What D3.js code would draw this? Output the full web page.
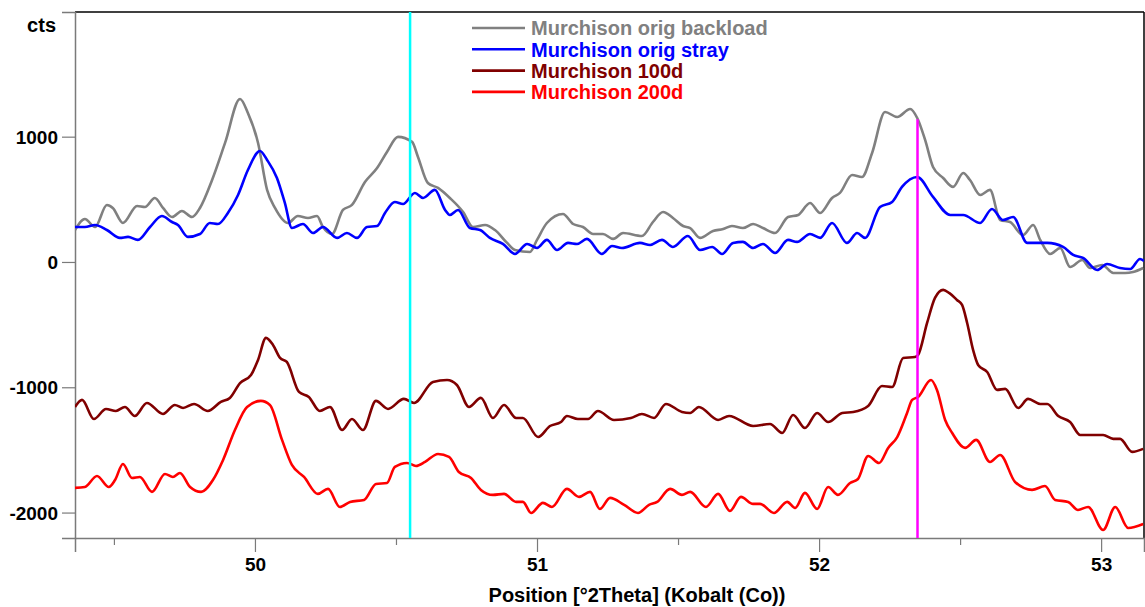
<!DOCTYPE html>
<html>
<head>
<meta charset="utf-8">
<script src="https://cdn.jsdelivr.net/npm/d3@7"></script>
<style>
  body { margin: 0; background: #fff; }
  svg text { font-family: "Liberation Sans", Arial, sans-serif; font-weight: bold; }
</style>
</head>
<body>
<div id="chart"></div>
<script>
// [°2Theta, cts]
const backload = [[49.362,255],[49.397,343],[49.433,279],[49.475,455],[49.496,431],[49.532,311],[49.582,447],[49.610,439],[49.645,511],[49.674,431],[49.706,359],[49.741,407],[49.777,359],[49.805,431],[49.848,654],[49.894,950],[49.947,1301],[49.975,1189],[50.011,950],[50.043,575],[50.071,431],[50.117,311],[50.152,367],[50.188,351],[50.220,367],[50.241,279],[50.273,223],[50.312,415],[50.344,455],[50.390,638],[50.433,750],[50.468,878],[50.507,998],[50.557,958],[50.578,838],[50.613,630],[50.649,591],[50.691,511],[50.738,399],[50.773,279],[50.816,295],[50.851,255],[50.894,152],[50.922,96],[50.975,80],[51.000,176],[51.035,311],[51.092,383],[51.128,303],[51.163,279],[51.199,223],[51.234,223],[51.270,184],[51.305,231],[51.372,207],[51.411,319],[51.447,399],[51.482,351],[51.518,287],[51.543,271],[51.578,192],[51.624,247],[51.660,263],[51.691,287],[51.730,271],[51.766,303],[51.801,271],[51.844,231],[51.890,359],[51.926,375],[51.968,471],[52.004,391],[52.046,511],[52.074,551],[52.117,694],[52.152,678],[52.188,870],[52.234,1197],[52.277,1157],[52.323,1221],[52.348,1149],[52.376,974],[52.404,758],[52.440,670],[52.475,599],[52.511,710],[52.535,654],[52.571,535],[52.606,575],[52.642,335],[52.677,319],[52.723,215],[52.759,295],[52.784,176],[52.819,64],[52.855,112],[52.890,-40],[52.933,16],[52.961,-48],[53.004,-24],[53.043,-88],[53.085,-88],[53.113,-80],[53.149,-48]];

const stray = [[49.362,279],[49.397,279],[49.433,295],[49.475,255],[49.521,192],[49.550,200],[49.585,176],[49.628,279],[49.670,367],[49.706,319],[49.727,295],[49.762,200],[49.805,223],[49.840,311],[49.869,303],[49.904,391],[49.940,535],[49.975,734],[50.018,886],[50.043,814],[50.078,670],[50.106,471],[50.131,271],[50.170,303],[50.206,231],[50.241,279],[50.291,192],[50.326,231],[50.362,192],[50.397,279],[50.433,287],[50.461,391],[50.496,479],[50.525,463],[50.567,551],[50.596,511],[50.638,575],[50.674,415],[50.691,375],[50.720,415],[50.762,271],[50.798,255],[50.833,192],[50.879,144],[50.922,64],[50.965,144],[51.000,112],[51.035,176],[51.071,96],[51.110,152],[51.142,144],[51.177,184],[51.230,64],[51.266,128],[51.301,112],[51.365,152],[51.401,136],[51.443,176],[51.482,120],[51.535,207],[51.578,96],[51.621,120],[51.656,64],[51.695,152],[51.730,160],[51.766,112],[51.801,144],[51.844,72],[51.890,176],[51.922,160],[51.968,223],[52.004,192],[52.046,311],[52.099,152],[52.135,231],[52.163,192],[52.216,439],[52.259,479],[52.294,599],[52.348,678],[52.404,519],[52.465,375],[52.511,375],[52.571,311],[52.613,423],[52.652,335],[52.688,359],[52.738,152],[52.809,152],[52.865,120],[52.901,56],[52.936,32],[52.986,-64],[53.021,-16],[53.067,-48],[53.103,-56],[53.138,24],[53.152,8]];

const d100 = [[49.362,-1157],[49.387,-1101],[49.429,-1253],[49.472,-1173],[49.507,-1189],[49.539,-1157],[49.574,-1229],[49.617,-1125],[49.674,-1213],[49.716,-1141],[49.745,-1165],[49.784,-1133],[49.833,-1189],[49.879,-1117],[49.911,-1085],[49.947,-966],[49.986,-902],[50.011,-782],[50.039,-606],[50.064,-662],[50.089,-766],[50.113,-798],[50.156,-1037],[50.191,-1077],[50.230,-1189],[50.266,-1157],[50.309,-1341],[50.344,-1253],[50.383,-1341],[50.429,-1109],[50.472,-1173],[50.528,-1093],[50.564,-1125],[50.631,-958],[50.681,-942],[50.716,-982],[50.759,-1157],[50.801,-1085],[50.844,-1245],[50.883,-1141],[50.926,-1245],[50.950,-1245],[51.004,-1397],[51.046,-1309],[51.085,-1277],[51.106,-1229],[51.145,-1253],[51.181,-1253],[51.216,-1189],[51.273,-1261],[51.333,-1245],[51.372,-1213],[51.415,-1245],[51.457,-1133],[51.514,-1197],[51.543,-1205],[51.574,-1157],[51.642,-1261],[51.681,-1229],[51.766,-1309],[51.826,-1293],[51.869,-1365],[51.908,-1221],[51.950,-1325],[51.993,-1205],[52.032,-1277],[52.082,-1205],[52.121,-1197],[52.174,-1149],[52.223,-990],[52.259,-998],[52.298,-766],[52.340,-758],[52.351,-742],[52.383,-487],[52.411,-287],[52.440,-223],[52.461,-247],[52.489,-303],[52.507,-343],[52.525,-487],[52.546,-702],[52.564,-822],[52.596,-878],[52.631,-1021],[52.660,-1013],[52.706,-1165],[52.741,-1093],[52.784,-1133],[52.809,-1133],[52.848,-1229],[52.890,-1277],[52.926,-1381],[53.007,-1381],[53.043,-1412],[53.067,-1412],[53.110,-1516],[53.149,-1492]];

const d200 = [[49.362,-1803],[49.397,-1796],[49.440,-1708],[49.482,-1796],[49.504,-1740],[49.532,-1612],[49.564,-1724],[49.592,-1716],[49.635,-1835],[49.681,-1692],[49.709,-1716],[49.734,-1684],[49.770,-1796],[49.809,-1835],[49.851,-1740],[49.887,-1580],[49.929,-1341],[49.972,-1157],[50.021,-1109],[50.053,-1141],[50.096,-1420],[50.131,-1620],[50.174,-1716],[50.223,-1851],[50.259,-1811],[50.301,-1955],[50.337,-1915],[50.387,-1899],[50.429,-1772],[50.468,-1764],[50.496,-1636],[50.539,-1604],[50.571,-1628],[50.603,-1596],[50.649,-1532],[50.688,-1556],[50.723,-1676],[50.766,-1724],[50.801,-1819],[50.844,-1859],[50.883,-1851],[50.926,-1915],[50.950,-1915],[50.979,-2003],[51.021,-1923],[51.053,-1955],[51.106,-1811],[51.149,-1875],[51.188,-1835],[51.223,-1971],[51.259,-1883],[51.309,-1939],[51.358,-2003],[51.397,-1939],[51.426,-1915],[51.472,-1811],[51.514,-1859],[51.543,-1835],[51.599,-1955],[51.642,-1851],[51.684,-1987],[51.723,-1875],[51.766,-1931],[51.791,-1931],[51.840,-2003],[51.887,-1915],[51.915,-1963],[51.950,-1843],[51.993,-1971],[52.032,-1796],[52.067,-1859],[52.110,-1764],[52.138,-1732],[52.174,-1548],[52.213,-1604],[52.245,-1484],[52.277,-1397],[52.312,-1205],[52.330,-1101],[52.351,-1077],[52.397,-942],[52.418,-1021],[52.447,-1261],[52.472,-1365],[52.518,-1484],[52.557,-1420],[52.606,-1596],[52.642,-1540],[52.695,-1756],[52.755,-1819],[52.801,-1788],[52.837,-1899],[52.883,-1915],[52.918,-1979],[52.954,-1955],[53.007,-2139],[53.050,-1955],[53.096,-2123],[53.149,-2091]];

const seriesNames = ["Murchison orig backload", "Murchison orig stray", "Murchison 100d", "Murchison 200d"];
const seriesColors = ["#808080", "#0000ff", "#800000", "#ff0000"];
const seriesData = [backload, stray, d100, d200];

// reference peak markers: position, top value
const refPos = [50.55, 52.349];
const refTop = [2000, 1140];
const refColors = ["#00ffff", "#ff00ff"];

const xMajor = [50, 51, 52, 53];
const xMinor = [49.5, 50.5, 51.5, 52.5];
const yTicks = [1000, 0, -1000, -2000];

const W = 1145, H = 607;
const mLeft = 75, mRight = 1144, mTop = 12, mBottom = 538;

const x = d3.scaleLinear().domain([49.362, 53.152]).range([mLeft, mRight]);
const y = d3.scaleLinear().domain([-2203, 1995]).range([mBottom, mTop]);

const svg = d3.select('#chart').append('svg').attr('width', W).attr('height', H);

svg.append('defs').append('clipPath').attr('id', 'clip')
  .append('rect').attr('x', mLeft).attr('y', mTop).attr('width', mRight - mLeft).attr('height', mBottom - mTop);

// frame
svg.append('line').attr('x1', mLeft).attr('x2', mRight).attr('y1', mTop).attr('y2', mTop)
  .attr('stroke', '#000').attr('stroke-width', 1.5);
svg.append('line').attr('x1', mRight).attr('x2', mRight).attr('y1', mTop).attr('y2', mBottom)
  .attr('stroke', '#000').attr('stroke-width', 1.5);

// axes (plain hyphen for negatives, like the original)
const fmt = d => String(d);
const yAxis = d3.axisLeft(y).tickValues(yTicks).tickSize(13).tickPadding(4).tickFormat(fmt);
const gy = svg.append('g').attr('transform', `translate(${mLeft},0)`).call(yAxis);
const xAxis = d3.axisBottom(x).tickValues(xMajor).tickSize(14).tickPadding(4).tickFormat(fmt);
const gx = svg.append('g').attr('transform', `translate(0,${mBottom})`).call(xAxis);
const gxm = svg.append('g').attr('transform', `translate(0,${mBottom})`)
  .call(d3.axisBottom(x).tickValues(xMinor).tickSize(7).tickFormat(''));
gxm.select('.domain').remove();

[gx, gy, gxm].forEach(g => {
  g.selectAll('.domain').attr('stroke', '#7a7a7a').attr('stroke-width', 1.5);
  g.selectAll('.tick line').attr('stroke', '#7a7a7a').attr('stroke-width', 1.2);
});
gy.selectAll('.tick text').attr('font-size', 19).attr('fill', '#000').attr('dy', '0.35em');
gx.selectAll('.tick text').attr('font-size', 19).attr('fill', '#000').attr('dy', '0.8em');

svg.append('text').attr('x', 56).attr('y', 32).attr('text-anchor', 'end')
  .attr('font-size', 20).text('cts');
svg.append('text').attr('x', 637).attr('y', 602).attr('text-anchor', 'middle')
  .attr('font-size', 20).text('Position [°2Theta] (Kobalt (Co))');

// data lines
const line = d3.line().x(d => x(d[0])).y(d => y(d[1])).curve(d3.curveMonotoneX);
const plot = svg.append('g').attr('clip-path', 'url(#clip)');
plot.selectAll('.series').data(seriesData).enter()
  .append('path').attr('class', 'series')
  .attr('d', line)
  .attr('fill', 'none')
  .attr('stroke', (d, i) => seriesColors[i])
  .attr('stroke-width', 2.6)
  .attr('stroke-linejoin', 'round');

// reference markers on top
plot.selectAll('.ref').data(refPos).enter()
  .append('line').attr('class', 'ref')
  .attr('x1', d => x(d)).attr('x2', d => x(d))
  .attr('y1', (d, i) => y(refTop[i])).attr('y2', mBottom)
  .attr('stroke', (d, i) => refColors[i]).attr('stroke-width', 2.5);

// legend
const lg = svg.append('g');
seriesNames.forEach((n, i) => {
  const yy = 28 + i * 21.3;
  lg.append('line').attr('x1', 472).attr('x2', 525).attr('y1', yy).attr('y2', yy)
    .attr('stroke', seriesColors[i]).attr('stroke-width', 2.6);
  lg.append('text').attr('x', 531).attr('y', yy).attr('dy', '0.36em')
    .attr('font-size', 20).attr('fill', seriesColors[i]).text(n);
});
</script>
</body>
</html>
